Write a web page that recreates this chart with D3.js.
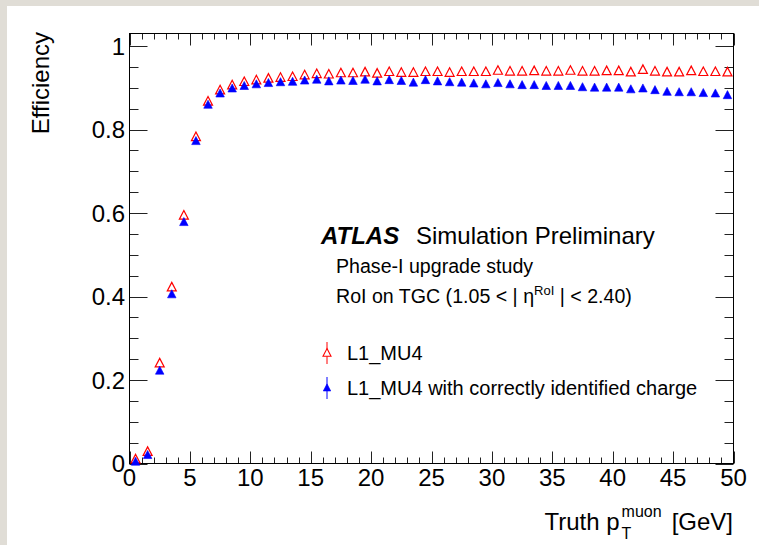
<!DOCTYPE html>
<html>
<head>
<meta charset="utf-8">
<script src="https://cdn.jsdelivr.net/npm/d3@7/dist/d3.min.js"></script>
<style>
  html, body { margin: 0; padding: 0; background: #ffffff; }
  svg { display: block; }
  text { font-family: "Liberation Sans", Arial, Helvetica, sans-serif; fill: #000; }
</style>
</head>
<body>
<svg id="chart" width="759" height="545"></svg>
<script>
// ---- data ----
const binCenters = [0.5,1.5,2.5,3.5,4.5,5.5,6.5,7.5,8.5,9.5,10.5,11.5,12.5,13.5,14.5,15.5,16.5,17.5,18.5,19.5,
  20.5,21.5,22.5,23.5,24.5,25.5,26.5,27.5,28.5,29.5,30.5,31.5,32.5,33.5,34.5,35.5,36.5,37.5,38.5,39.5,
  40.5,41.5,42.5,43.5,44.5,45.5,46.5,47.5,48.5,49.5];
const effMU4 = [0.010,0.028,0.240,0.422,0.594,0.782,0.867,0.894,0.906,0.914,0.918,0.922,0.924,0.926,0.930,0.933,0.932,0.935,0.935,0.937,
  0.934,0.938,0.936,0.936,0.938,0.938,0.936,0.938,0.938,0.938,0.941,0.939,0.939,0.940,0.939,0.939,0.941,0.939,0.939,0.940,
  0.940,0.937,0.943,0.939,0.937,0.937,0.940,0.938,0.938,0.937];
const effMU4Charge = [0.004,0.020,0.222,0.405,0.578,0.772,0.859,0.886,0.898,0.904,0.908,0.911,0.913,0.914,0.917,0.919,0.915,0.917,0.916,0.919,
  0.915,0.918,0.916,0.912,0.918,0.915,0.913,0.912,0.910,0.908,0.911,0.908,0.906,0.906,0.904,0.904,0.904,0.901,0.900,0.900,
  0.900,0.896,0.898,0.894,0.890,0.889,0.889,0.887,0.886,0.882];
const xTickLabels = ["0","5","10","15","20","25","30","35","40","45","50"];
const yTickLabels = ["0","0.2","0.4","0.6","0.8","1"];
const legendLabels = ["L1_MU4", "L1_MU4 with correctly identified charge"];
const seriesColors = ["#ff0000", "#0000ff"];

// ---- layout ----
const svg = d3.select("#chart");
const L = 129.5, R = 733.5, T = 33.5, B = 463.5;
const x = d3.scaleLinear().domain([0, 50]).range([L, R]);
const y = d3.scaleLinear().domain([0, 1.03]).range([B, T]);
const bigFont = 24, smallFont = 19.6;

// background frame strips
svg.append("rect").attr("x", 0).attr("y", 0).attr("width", 759).attr("height", 545).attr("fill", "#e0ddd6");
svg.append("rect").attr("x", 7).attr("y", 6).attr("width", 752).attr("height", 539).attr("fill", "#ffffff");

// ticks
const g = svg.append("g");
const xMinor = d3.range(0, 51, 1);
const yMinor = d3.range(0, 1.0001, 0.05);
const tickColor = "#222";
xMinor.forEach(v => {
  const major = v % 5 === 0;
  const len = major ? 12 : 6;
  const px = Math.round(x(v)) + 0.5;
  g.append("line").attr("x1", px).attr("x2", px).attr("y1", B).attr("y2", B - len).attr("stroke", tickColor);
  g.append("line").attr("x1", px).attr("x2", px).attr("y1", T).attr("y2", T + len).attr("stroke", tickColor);
});
yMinor.forEach((v, i) => {
  const major = i % 4 === 0;
  const len = major ? 18 : 9;
  const py = Math.round(y(v)) + 0.5;
  g.append("line").attr("x1", L).attr("x2", L + len).attr("y1", py).attr("y2", py).attr("stroke", tickColor);
  g.append("line").attr("x1", R).attr("x2", R - len).attr("y1", py).attr("y2", py).attr("stroke", tickColor);
});
g.append("rect").attr("x", L).attr("y", T).attr("width", R - L).attr("height", B - T)
  .attr("fill", "none").attr("stroke", "#000").attr("stroke-width", 1);

// tick labels
xTickLabels.forEach(t => {
  svg.append("text").attr("x", x(+t)).attr("y", 486).attr("text-anchor", "middle")
    .attr("font-size", bigFont).text(t);
});
yTickLabels.forEach(t => {
  svg.append("text").attr("x", 125).attr("y", y(+t) + 8.5).attr("text-anchor", "end")
    .attr("font-size", bigFont).text(t);
});

// axis titles
svg.append("text").attr("transform", "translate(48.5,32) rotate(-90)").attr("text-anchor", "end")
  .attr("font-size", bigFont).text("Efficiency");

const xt = svg.append("g");
const t1 = xt.append("text").attr("x", 0).attr("y", 530).attr("font-size", bigFont).text("Truth p");
const w1 = t1.node().getComputedTextLength();
const sup = xt.append("text").attr("x", w1 + 2).attr("y", 517).attr("font-size", 16).text("muon");
const sub = xt.append("text").attr("x", w1 + 2).attr("y", 539).attr("font-size", 16).text("T");
const ws = Math.max(sup.node().getComputedTextLength(), sub.node().getComputedTextLength());
const t3 = xt.append("text").attr("x", w1 + ws + 12).attr("y", 530).attr("font-size", bigFont).text("[GeV]");
const wTot = w1 + ws + 12 + t3.node().getComputedTextLength();
xt.attr("transform", `translate(${733 - wTot},0)`);

// ATLAS label
svg.append("text").attr("x", 321).attr("y", 244).attr("font-size", bigFont)
  .attr("font-weight", "bold").attr("font-style", "italic").text("ATLAS");
svg.append("text").attr("x", 416).attr("y", 244).attr("font-size", bigFont).text("Simulation Preliminary");
svg.append("text").attr("x", 336).attr("y", 273).attr("font-size", smallFont).text("Phase-I upgrade study");
const roi = svg.append("text").attr("x", 336).attr("y", 303).attr("font-size", smallFont);
roi.append("tspan").text("RoI on TGC (1.05 < | η");
roi.append("tspan").attr("font-size", 13).attr("dy", -8).text("RoI");
roi.append("tspan").attr("dy", 8).text(" | < 2.40)");

// markers
function triPath(cx, cy, s) {
  const h = s * 0.95;
  return `M${cx},${cy - h * 0.58} L${cx + s / 2},${cy + h * 0.42} L${cx - s / 2},${cy + h * 0.42} Z`;
}
const series = [
  {vals: effMU4, color: seriesColors[0], open: true},
  {vals: effMU4Charge, color: seriesColors[1], open: false}
];
series.forEach(sr => {
  svg.append("g").selectAll("path").data(binCenters).enter().append("path")
    .attr("d", (d, i) => triPath(x(d), y(sr.vals[i]), sr.open ? 9 : 8.5))
    .attr("fill", sr.open ? "none" : sr.color)
    .attr("stroke", sr.color).attr("stroke-width", sr.open ? 1.2 : 0.6);
});

// legend
const legY = [353, 388];
legendLabels.forEach((lab, i) => {
  const cy = legY[i];
  const sr = series[i];
  svg.append("line").attr("x1", 327).attr("x2", 327).attr("y1", cy - 11).attr("y2", cy + 11)
    .attr("stroke", sr.color).attr("stroke-width", 1);
  svg.append("path").attr("d", triPath(327, cy, sr.open ? 8 : 7.5))
    .attr("fill", sr.open ? "#fff" : sr.color).attr("stroke", sr.color).attr("stroke-width", sr.open ? 1.1 : 0.6);
  svg.append("text").attr("x", 347).attr("y", cy + 6.5).attr("font-size", 20).text(lab);
});
</script>
</body>
</html>
